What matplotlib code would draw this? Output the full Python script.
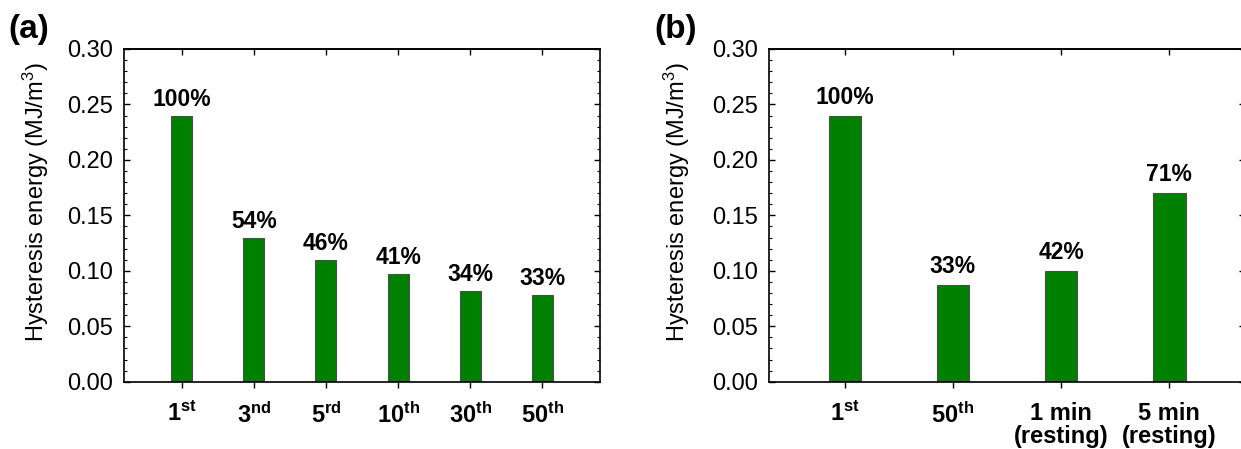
import numpy as np
import matplotlib
matplotlib.use("Agg")
import matplotlib.pyplot as plt
from matplotlib.ticker import MultipleLocator, FormatStrFormatter

# fonts (Arial look-alike)
plt.rcParams['font.family'] = ['Liberation Sans', 'DejaVu Sans']
plt.rcParams['mathtext.fontset'] = 'custom'
plt.rcParams['mathtext.rm'] = 'Liberation Sans'
plt.rcParams['mathtext.it'] = 'Liberation Sans:italic'
plt.rcParams['mathtext.bf'] = 'Liberation Sans:bold'

# panel (a) data
cycle_num_a = ['1', '3', '5', '10', '30', '50']
cycle_sup_a = ['st', 'nd', 'rd', 'th', 'th', 'th']
energy_a = [0.240, 0.130, 0.110, 0.097, 0.082, 0.078]
pct_a = ['100%', '54%', '46%', '41%', '34%', '33%']

# panel (b) data
labels_b = ['$\\mathbf{1^{st}}$', '$\\mathbf{50^{th}}$', '1 min\n(resting)', '5 min\n(resting)']
energy_b = [0.240, 0.087, 0.100, 0.170]
pct_b = ['100%', '33%', '42%', '71%']

bar_color = '#008000'
edge_color = '#4d4d4d'

fig = plt.figure(figsize=(12.41, 4.49), dpi=100)
ax1 = fig.add_axes([0.0999, 0.1499, 0.3836, 0.741])
ax2 = fig.add_axes([0.6197, 0.1499, 0.3836, 0.741])


def style_axis(ax, xpos, xlabels, xlim):
    ax.set_xlim(xlim)
    ax.set_ylim(0, 0.30)
    ax.yaxis.set_major_locator(MultipleLocator(0.05))
    ax.yaxis.set_minor_locator(MultipleLocator(0.01))
    ax.yaxis.set_major_formatter(FormatStrFormatter('%.2f'))
    ax.set_xticks(xpos)
    ax.set_xticklabels(xlabels, fontsize=17, fontweight='bold', linespacing=1.0)
    ax.tick_params(axis='y', which='major', direction='in', length=4.5, width=1.0,
                   left=True, right=True, labelsize=17, pad=8)
    ax.tick_params(axis='y', which='minor', direction='in', length=2.5, width=0.8,
                   left=True, right=True)
    ax.tick_params(axis='x', which='major', direction='out', length=4, width=1.0, pad=10.5)
    # top ticks point inward
    top = ax.secondary_xaxis('top')
    top.set_xticks(xpos)
    top.tick_params(direction='in', length=4.5, width=1.0, labeltop=False)
    top.spines['top'].set_linewidth(1.2)
    for s in ax.spines.values():
        s.set_linewidth(1.2)
    ax.set_ylabel('Hysteresis energy (MJ/m$^3$)', fontsize=17)


# (a)
x_a = np.arange(len(energy_a))
ax1.bar(x_a, energy_a, width=0.29, color=bar_color, edgecolor=edge_color, linewidth=0.8)
ticks_a = ['$\\mathbf{%s^{%s}}$' % (n, s) for n, s in zip(cycle_num_a, cycle_sup_a)]
style_axis(ax1, x_a, ticks_a, (-0.8, 5.8))
for xi, yi, p in zip(x_a, energy_a, pct_a):
    ax1.annotate(p, (xi, yi), xytext=(0, 7), textcoords='offset points',
                 ha='center', va='baseline', fontsize=16.5, fontweight='bold')
ax1.yaxis.set_label_coords(-0.154, 0.54)

# (b)
x_b = np.arange(len(energy_b))
ax2.bar(x_b, energy_b, width=0.3, color=bar_color, edgecolor=edge_color, linewidth=0.8)
style_axis(ax2, x_b, labels_b, (-0.7, 3.7))
for xi, yi, p in zip(x_b, energy_b, pct_b):
    ax2.annotate(p, (xi, yi), xytext=(0, 8.5), textcoords='offset points',
                 ha='center', va='baseline', fontsize=16.5, fontweight='bold')
ax2.yaxis.set_label_coords(-0.162, 0.54)

# panel letters
fig.text(0.007, 0.935, '(a)', fontsize=24, fontweight='bold', ha='left', va='center')
fig.text(0.527, 0.935, '(b)', fontsize=24, fontweight='bold', ha='left', va='center')

fig.savefig('out.png', dpi=100)
